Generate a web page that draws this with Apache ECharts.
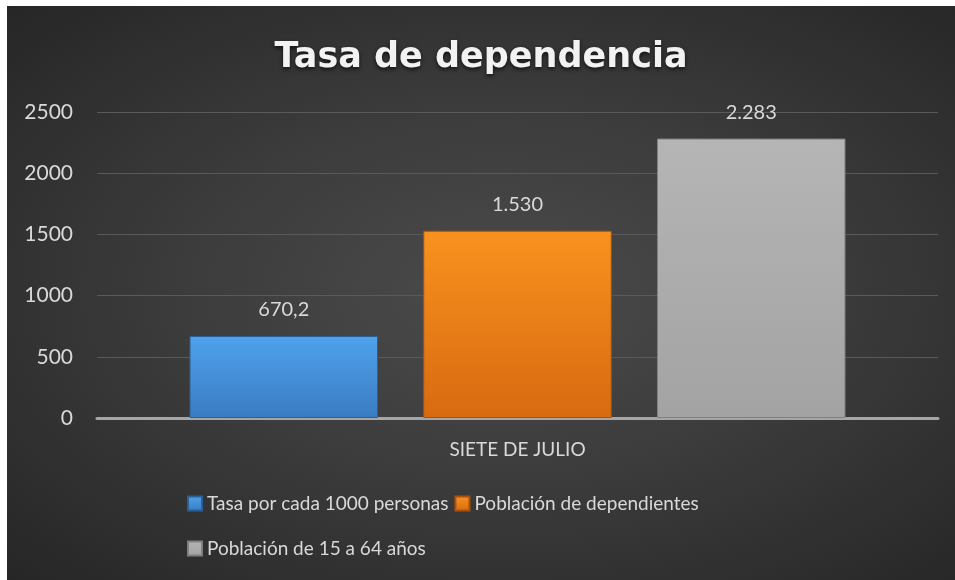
<!DOCTYPE html>
<html>
<head>
<meta charset="utf-8">
<script src="https://cdn.jsdelivr.net/npm/echarts@6/dist/echarts.min.js"></script>
<style>
  html, body { margin: 0; padding: 0; background: #ffffff; }
  #chart {
    position: absolute; left: 7px; top: 6px; width: 948px; height: 574px;
    background: radial-gradient(ellipse at 52% 50%, #4b4b4b 0%, #3c3c3c 45%, #262626 100%);
  }
</style>
</head>
<body>
<div id="chart"></div>
<script>
const categories = ['SIETE DE JULIO'];
const seriesNames = ['Tasa por cada 1000 personas', 'Población de dependientes', 'Población de 15 a 64 años'];
const tasaValues = [670.2];
const dependientesValues = [1530];
const poblacionValues = [2283];
const valueLabels = ['670,2', '1.530', '2.283'];

const chart = echarts.init(document.getElementById('chart'), null, { renderer: 'canvas' });

function grad(top, bottom) {
  return new echarts.graphic.LinearGradient(0, 0, 0, 1, [
    { offset: 0, color: top }, { offset: 1, color: bottom }
  ]);
}
const fills = [
  grad('#4ea2ec', '#3a7cc2'),
  grad('#f8921f', '#d86a10'),
  grad('#b5b5b5', '#a3a3a3')
];
const borders = ['#2c5f94', '#a85210', '#808080'];
const textColor = '#d9d9d9';
const font = 'Lato, "Open Sans", sans-serif';

function mkSeries(i, data) {
  return {
    name: seriesNames[i],
    type: 'bar',
    data: data,
    barGap: '24%',
    barCategoryGap: '22%',
    itemStyle: { color: fills[i], borderColor: borders[i], borderWidth: 1 },
    label: {
      show: true, position: 'top', distance: 16,
      color: textColor, fontSize: 20, fontFamily: font,
      formatter: () => valueLabels[i]
    }
  };
}

chart.setOption({
  animation: false,
  backgroundColor: 'transparent',
  title: {
    text: 'Tasa de dependencia',
    left: 'center', top: 29,
    textStyle: {
      color: '#f2f2f2', fontSize: 35, fontWeight: 'bold', fontFamily: '"DejaVu Sans", sans-serif',
      textShadowColor: 'rgba(0,0,0,0.7)', textShadowBlur: 4, textShadowOffsetY: 2
    }
  },
  grid: { left: 90, right: 17, top: 106, bottom: 162 },
  legend: [
    {
      data: [seriesNames[0], seriesNames[1]],
      left: 180, top: 488, padding: 0, itemGap: 6, itemWidth: 14, itemHeight: 14, icon: 'rect',
      textStyle: { color: textColor, fontSize: 19, fontFamily: font }
    },
    {
      data: [seriesNames[2]],
      left: 180, top: 533, padding: 0, itemWidth: 14, itemHeight: 14, icon: 'rect',
      textStyle: { color: textColor, fontSize: 19, fontFamily: font }
    }
  ],
  xAxis: {
    type: 'category', data: categories,
    axisLine: { show: true, lineStyle: { color: '#a6a6a6', width: 3 } },
    axisTick: { show: false },
    axisLabel: { color: textColor, fontSize: 19, fontFamily: font, margin: 22 }
  },
  yAxis: {
    type: 'value', min: 0, max: 2500, interval: 500,
    axisLine: { show: false }, axisTick: { show: false },
    axisLabel: { color: textColor, fontSize: 21, fontFamily: font, margin: 24, formatter: v => String(v) },
    splitLine: { lineStyle: { color: '#5a5a5a', width: 1 } }
  },
  series: [
    mkSeries(0, tasaValues),
    mkSeries(1, dependientesValues),
    mkSeries(2, poblacionValues)
  ]
});
</script>
</body>
</html>
